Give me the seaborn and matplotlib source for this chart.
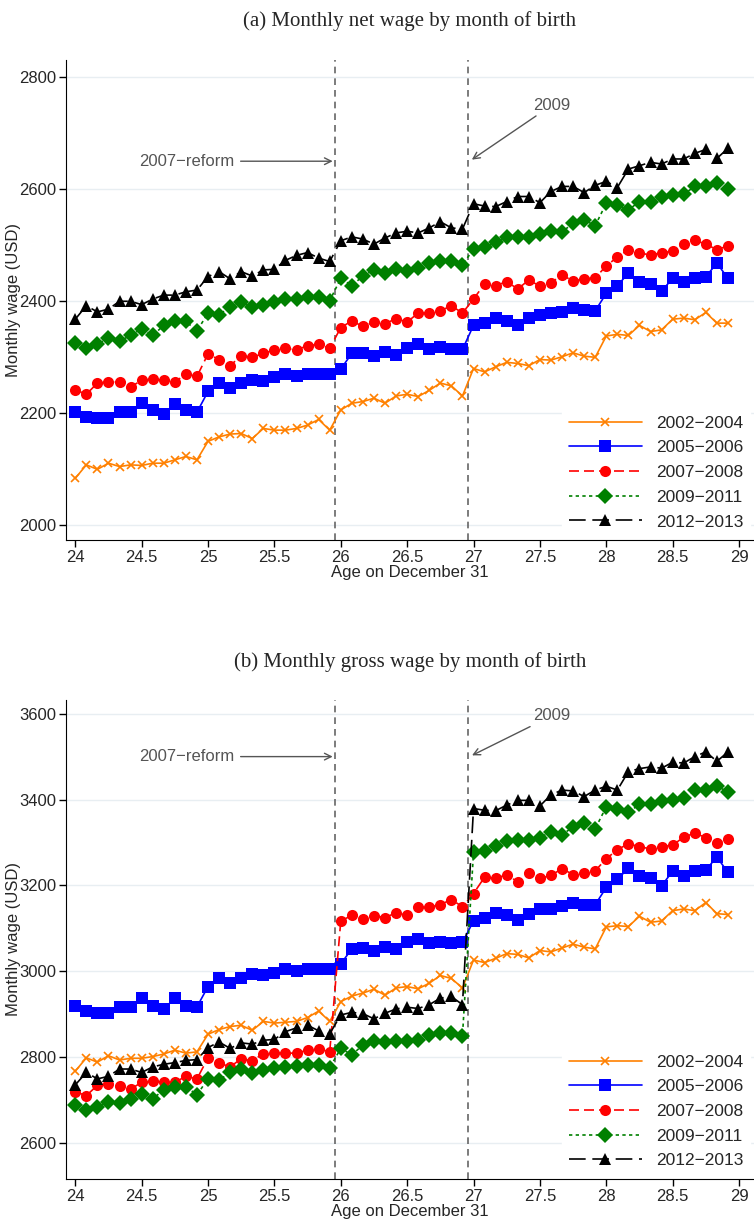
import numpy as np
import pandas as pd
import seaborn as sns
import matplotlib.pyplot as plt

# Ages: 24 to 28 11/12, monthly
ages = [24 + m / 12 for m in range(60)]
cohorts = ["2002\u22122004", "2005\u22122006", "2007\u22122008", "2009\u22122011", "2012\u22122013"]

net_0204 = [2084, 2108, 2100, 2111, 2105, 2108, 2107, 2111, 2111, 2117, 2123, 2117,
            2150, 2158, 2163, 2164, 2155, 2173, 2170, 2170, 2173, 2179, 2189, 2170,
            2206, 2218, 2221, 2227, 2218, 2231, 2234, 2230, 2241, 2254, 2249, 2231,
            2280, 2274, 2283, 2291, 2289, 2285, 2296, 2295, 2301, 2308, 2302, 2300,
            2338, 2341, 2339, 2357, 2346, 2349, 2368, 2370, 2367, 2380, 2361, 2361]
net_0506 = [2203, 2194, 2191, 2191, 2203, 2203, 2218, 2206, 2199, 2217, 2206, 2202,
            2239, 2255, 2245, 2255, 2260, 2258, 2264, 2270, 2267, 2270, 2270, 2270,
            2279, 2307, 2307, 2303, 2309, 2305, 2316, 2323, 2314, 2319, 2314, 2314,
            2357, 2361, 2370, 2364, 2358, 2370, 2376, 2379, 2381, 2388, 2385, 2383,
            2414, 2428, 2450, 2434, 2431, 2418, 2441, 2434, 2442, 2444, 2468, 2441]
net_0708 = [2242, 2234, 2254, 2256, 2256, 2247, 2259, 2261, 2259, 2256, 2270, 2266,
            2306, 2296, 2285, 2303, 2300, 2307, 2313, 2316, 2313, 2321, 2323, 2316,
            2353, 2365, 2355, 2363, 2360, 2369, 2363, 2379, 2379, 2383, 2392, 2379,
            2404, 2431, 2428, 2435, 2422, 2438, 2427, 2433, 2447, 2436, 2440, 2442,
            2463, 2479, 2492, 2487, 2482, 2487, 2489, 2502, 2509, 2502, 2492, 2499]
net_0911 = [2326, 2317, 2324, 2334, 2329, 2339, 2351, 2339, 2357, 2364, 2364, 2347,
            2379, 2376, 2390, 2398, 2389, 2393, 2398, 2404, 2404, 2408, 2408, 2401,
            2441, 2428, 2445, 2456, 2451, 2457, 2454, 2459, 2468, 2471, 2471, 2465,
            2493, 2496, 2505, 2514, 2514, 2514, 2520, 2526, 2524, 2539, 2545, 2535,
            2575, 2571, 2563, 2578, 2578, 2586, 2589, 2591, 2605, 2605, 2612, 2601]
net_1213 = [2368, 2392, 2381, 2386, 2400, 2400, 2394, 2404, 2411, 2411, 2417, 2420,
            2444, 2453, 2440, 2453, 2445, 2456, 2457, 2473, 2482, 2487, 2477, 2471,
            2508, 2515, 2511, 2502, 2513, 2522, 2525, 2522, 2531, 2542, 2531, 2529,
            2574, 2570, 2569, 2578, 2587, 2587, 2576, 2596, 2605, 2605, 2594, 2607,
            2614, 2603, 2636, 2642, 2648, 2645, 2654, 2654, 2664, 2671, 2655, 2673]

gross_0204 = [2767, 2798, 2788, 2803, 2793, 2797, 2797, 2801, 2807, 2816, 2809, 2812,
              2853, 2864, 2871, 2874, 2862, 2883, 2879, 2881, 2883, 2892, 2907, 2883,
              2929, 2942, 2949, 2958, 2944, 2961, 2964, 2959, 2972, 2990, 2983, 2961,
              3026, 3020, 3030, 3041, 3039, 3031, 3048, 3045, 3054, 3063, 3056, 3052,
              3103, 3106, 3104, 3128, 3114, 3117, 3141, 3145, 3141, 3160, 3134, 3132]
gross_0506 = [2918, 2907, 2902, 2902, 2916, 2916, 2937, 2920, 2912, 2937, 2920, 2917,
              2964, 2983, 2972, 2983, 2993, 2991, 2996, 3004, 3000, 3004, 3004, 3004,
              3017, 3052, 3054, 3048, 3057, 3052, 3067, 3076, 3065, 3069, 3065, 3067,
              3117, 3123, 3135, 3130, 3120, 3133, 3145, 3146, 3151, 3160, 3154, 3155,
              3195, 3214, 3240, 3221, 3217, 3199, 3233, 3221, 3233, 3236, 3266, 3230]
gross_0708 = [2719, 2710, 2734, 2736, 2732, 2725, 2741, 2743, 2742, 2741, 2755, 2749,
              2798, 2786, 2777, 2796, 2791, 2808, 2809, 2809, 2809, 2816, 2819, 2812,
              3117, 3130, 3121, 3129, 3125, 3136, 3130, 3150, 3149, 3155, 3167, 3150,
              3181, 3219, 3216, 3225, 3208, 3228, 3216, 3223, 3239, 3225, 3229, 3234,
              3262, 3283, 3297, 3290, 3285, 3290, 3294, 3312, 3322, 3311, 3299, 3307]
gross_0911 = [2688, 2677, 2684, 2695, 2692, 2703, 2714, 2703, 2723, 2731, 2731, 2712,
              2749, 2746, 2764, 2771, 2762, 2769, 2775, 2777, 2778, 2782, 2782, 2775,
              2820, 2805, 2828, 2838, 2834, 2837, 2838, 2840, 2851, 2855, 2855, 2849,
              3277, 3281, 3291, 3303, 3305, 3305, 3311, 3325, 3318, 3336, 3346, 3332,
              3383, 3378, 3370, 3389, 3389, 3396, 3399, 3404, 3422, 3422, 3431, 3418]
gross_1213 = [2735, 2764, 2749, 2755, 2772, 2772, 2764, 2777, 2783, 2787, 2792, 2794,
              2822, 2835, 2820, 2833, 2830, 2839, 2841, 2859, 2868, 2874, 2861, 2854,
              2898, 2904, 2901, 2889, 2902, 2912, 2916, 2913, 2922, 2937, 2941, 2922,
              3379, 3375, 3374, 3387, 3398, 3398, 3385, 3411, 3422, 3420, 3407, 3422,
              3431, 3422, 3465, 3472, 3476, 3473, 3487, 3485, 3500, 3511, 3489, 3511]

net_series = [net_0204, net_0506, net_0708, net_0911, net_1213]
gross_series = [gross_0204, gross_0506, gross_0708, gross_0911, gross_1213]

colors = ["#ff8000", "#0000ff", "#ff0000", "#008000", "#000000"]
markers = ["x", "s", "o", "D", "^"]
msizes = [5.5, 8, 8, 8, 8]
linestyles = ["-", "-", (0, (6, 3)), (0, (2, 2)), (0, (10, 4))]

sns.set_style("white")
plt.rcParams['font.family'] = ['Liberation Sans', 'DejaVu Sans']

fig = plt.figure(figsize=(7.54, 12.28), dpi=100)
ax_a = fig.add_axes([0.0875, 0.5603, 0.912, 0.391])
ax_b = fig.add_axes([0.0875, 0.04, 0.912, 0.39])


def draw_panel(ax, series, title, ylim, yticks, ann_y, yr_y):
    for ax_y in yticks:
        ax.axhline(ax_y, color="#e8eef2", lw=1, zorder=0)
    for s, lab, c, m, ms, ls in zip(series, cohorts, colors, markers, msizes, linestyles):
        df = pd.DataFrame({"age": ages, "wage": s})
        sns.lineplot(data=df, x="age", y="wage", ax=ax, color=c, marker=m,
                     markersize=ms, markeredgecolor=c, markeredgewidth=1.2 if m == "x" else 0,
                     linestyle=ls, lw=1.2, label=lab, zorder=3)
    ax.axvline(25.96, color="#666666", lw=1.2, ls=(0, (4, 3)), zorder=2)
    ax.axvline(26.96, color="#666666", lw=1.2, ls=(0, (4, 3)), zorder=2)
    ax.annotate("2007\u2212reform", xy=(25.96, ann_y), xytext=(25.2, ann_y),
                ha="right", va="center", fontsize=12, color="#555555",
                arrowprops=dict(arrowstyle="->", color="#555555", lw=1))
    ax.annotate("2009", xy=(26.97, ann_y), xytext=(27.45, yr_y),
                ha="left", va="center", fontsize=12, color="#555555",
                arrowprops=dict(arrowstyle="->", color="#555555", lw=1, shrinkA=0))
    ax.set_xlim(23.93, 29.11)
    ax.set_ylim(*ylim)
    ax.set_xticks([24, 24.5, 25, 25.5, 26, 26.5, 27, 27.5, 28, 28.5, 29])
    ax.set_xticklabels(["24", "24.5", "25", "25.5", "26", "26.5", "27", "27.5", "28", "28.5", "29"])
    ax.set_yticks(yticks)
    ax.tick_params(axis="both", direction="out", length=5, width=1, labelsize=12,
                   left=True, bottom=True, color="black", pad=2)
    for sp in ["top", "right"]:
        ax.spines[sp].set_visible(False)
    for sp in ["left", "bottom"]:
        ax.spines[sp].set_color("black")
    ax.set_xlabel("Age on December 31", fontsize=12, labelpad=0)
    ax.set_ylabel("Monthly wage (USD)", fontsize=12)
    ax.yaxis.set_label_coords(-0.065, 0.5)
    ax.set_title(title, fontsize=15, family=["Liberation Serif", "DejaVu Serif"], pad=24)
    leg = ax.legend(loc="lower right", frameon=True, fancybox=False, fontsize=12.5,
                    handlelength=4.2, labelspacing=0.55, borderaxespad=0.2)
    leg.get_frame().set_facecolor("white")
    leg.get_frame().set_edgecolor("white")
    leg.get_frame().set_alpha(1)


draw_panel(ax_a, net_series, "(a) Monthly net wage by month of birth",
           (1974, 2831), [2000, 2200, 2400, 2600, 2800], 2650, 2750)
draw_panel(ax_b, gross_series, "(b) Monthly gross wage by month of birth",
           (2516, 3632), [2600, 2800, 3000, 3200, 3400, 3600], 3500, 3595)

fig.savefig("out.png", dpi=100)
